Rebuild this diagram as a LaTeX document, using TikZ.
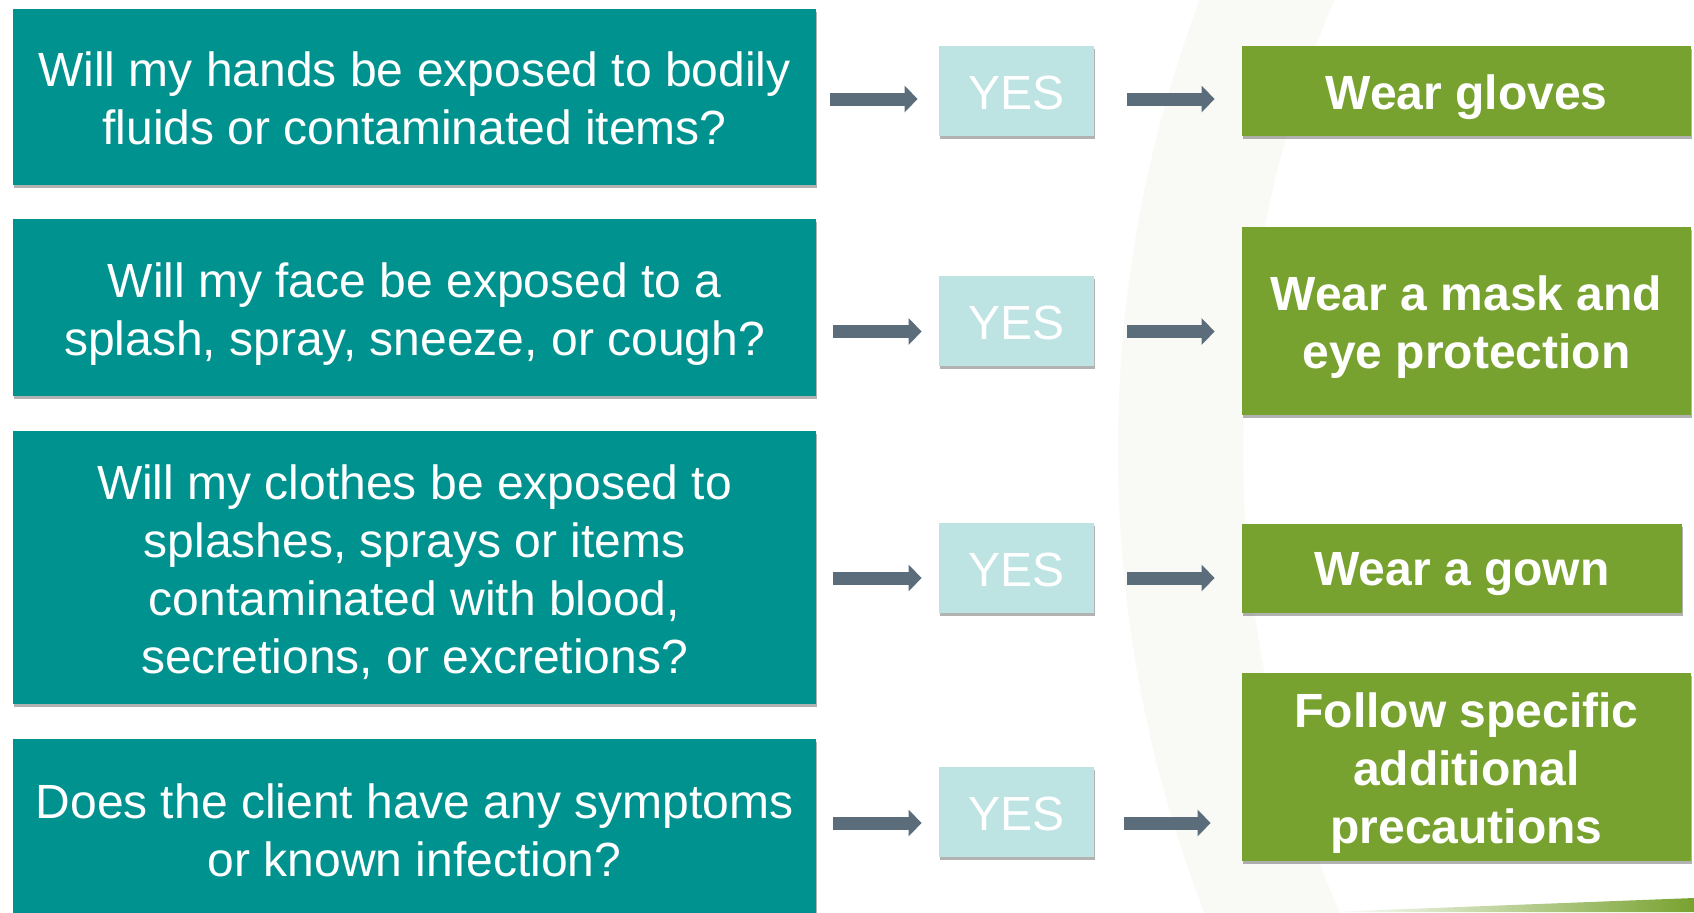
\documentclass[tikz,border=0pt]{standalone}
\usepackage{fontspec}
\setmainfont{Liberation Sans}
\usetikzlibrary{arrows.meta,shadows}
\definecolor{teal1}{HTML}{00928F}
\definecolor{yesfill}{HTML}{BDE3E3}
\definecolor{grn}{HTML}{78A22F}
\definecolor{arrcol}{HTML}{5B6C7A}
\definecolor{ringcol}{HTML}{F9FAF5}
\tikzset{
  boxshadow/.style={drop shadow={shadow xshift=0.6pt, shadow yshift=-1.5pt, opacity=0.3, fill=black}},
  qbox/.style={fill=teal1, inner sep=0pt, minimum width=401.5pt, boxshadow},
  yesbox/.style={fill=yesfill, inner sep=0pt, minimum width=77.5pt, minimum height=45pt, boxshadow},
  abox/.style={fill=grn, inner sep=0pt, boxshadow},
  qtext/.style={text=white, align=center, inner sep=0pt, font=\fontsize{24}{29}\selectfont},
  atext/.style={text=white, align=center, inner sep=0pt, font=\fontsize{24}{29}\selectfont\bfseries},
  arr/.style={draw=arrcol, line width=6.5pt, -{Triangle[length=6.5pt,width=13pt]}}
}
\begin{document}
\begin{tikzpicture}[x=0.5pt,y=-0.5pt]
\useasboundingbox (0,0) rectangle (1694,912);
\fill[white] (0,0) rectangle (1694,912);
% faint background ring
\begin{scope}
\clip (0,0) rectangle (1694,912);
\fill[ringcol, even odd rule] (2393,450) circle [radius=1275] (2393,450) circle [radius=1150];
\shade[left color=white, right color=grn] (1330,912) -- (1694,898) -- (1694,912) -- cycle;
\end{scope}
% questions
\node[qbox, minimum height=88pt] (q1) at (414.5,97) {};
\node[qtext] (q1t) at ([yshift=-0.5pt]q1.center) {Will my hands be exposed to bodily\\fluids or contaminated items?};
\node[qbox, minimum height=88.5pt] (q2) at (414.5,307.5) {};
\node[qtext] (q2t) at ([yshift=-3.5pt]q2.center) {Will my face be exposed to a\\splash, spray, sneeze, or cough?};
\node[qbox, minimum height=136.5pt] (q3) at (414.5,567.5) {};
\node[qtext] (q3t) at ([yshift=-2.5pt]q3.center) {Will my clothes be exposed to\\splashes, sprays or items\\contaminated with blood,\\secretions, or excretions?};
\node[qbox, minimum height=90pt] (q4) at (414.5,829) {};
\node[qtext] (q4t) at ([yshift=-0.5pt]q4.center) {Does the client have any symptoms\\or known infection?};
% yes boxes
\node[yesbox] (y1) at (1016.5,91) {};
\node[qtext] (y1t) at ([yshift=-1pt]y1.center) {YES};
\node[yesbox] (y2) at (1016.5,320.5) {};
\node[qtext] (y2t) at ([yshift=-1pt]y2.center) {YES};
\node[yesbox] (y3) at (1016.5,568) {};
\node[qtext] (y3t) at ([yshift=-1pt]y3.center) {YES};
\node[yesbox] (y4) at (1016.5,812) {};
\node[qtext] (y4t) at ([yshift=-1pt]y4.center) {YES};
% answers
\node[abox, minimum width=224.5pt, minimum height=45pt] (a1) at (1466.5,91) {};
\node[atext] (a1t) at ([yshift=-3pt]a1.center) {Wear gloves};
\node[abox, minimum width=224.5pt, minimum height=94pt] (a2) at (1466.5,321) {};
\node[atext] (a2t) at ([yshift=-3pt]a2.center) {Wear a mask and\\eye protection};
\node[abox, minimum width=220pt, minimum height=44.5pt] (a3) at (1462,568.5) {};
\node[atext] (a3t) at ([yshift=-3pt]a3.center) {Wear a gown};
\node[abox, minimum width=224.5pt, minimum height=94pt] (a4) at (1466.5,767) {};
\node[atext] (a4t) at ([yshift=-3pt]a4.center) {Follow specific\\additional\\precautions};
% arrows
\draw[arr] ([xshift=7pt,yshift=-4pt]q1.east |- y1.west) -- ([xshift=-10.5pt,yshift=-4pt]y1.west);
\draw[arr] ([xshift=16.5pt,yshift=-4pt]y1.east) -- ([xshift=-13.5pt,yshift=-4pt]a1.west);
\draw[arr] ([xshift=8.5pt,yshift=-5.5pt]q2.east |- y2.west) -- ([xshift=-8.5pt,yshift=-5.5pt]y2.west);
\draw[arr] ([xshift=16.5pt,yshift=-5.5pt]y2.east) -- ([xshift=-13.5pt,yshift=-5.5pt]a2.west |- y2.east);
\draw[arr] ([xshift=8.5pt,yshift=-5pt]q3.east |- y3.west) -- ([xshift=-8.5pt,yshift=-5pt]y3.west);
\draw[arr] ([xshift=16.5pt,yshift=-5pt]y3.east) -- ([xshift=-13.5pt,yshift=-5pt]a3.west |- y3.east);
\draw[arr] ([xshift=8.5pt,yshift=-5.5pt]q4.east |- y4.west) -- ([xshift=-8.5pt,yshift=-5.5pt]y4.west);
\draw[arr] ([xshift=15pt,yshift=-5.5pt]y4.east) -- ([xshift=-15.5pt,yshift=-5.5pt]a4.west |- y4.east);
\end{tikzpicture}
\end{document}
